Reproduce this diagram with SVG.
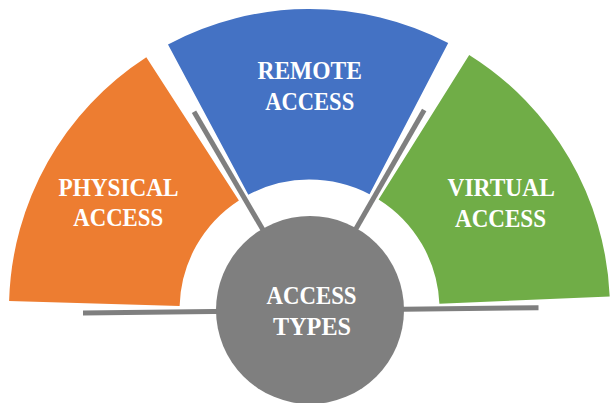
<svg xmlns="http://www.w3.org/2000/svg" width="611" height="403" viewBox="0 0 611 403">
<style>
.lbl{font-family:"Liberation Serif","Times New Roman",serif;font-weight:bold;font-size:26px;fill:#ffffff;text-anchor:middle}
.conn{stroke:#7f7f7f;stroke-width:5;fill:none;stroke-linecap:butt}
</style>
<rect width="611" height="403" fill="#ffffff"/>
<g id="physical">
<path d="M 146.3 57.2 A 300.5 300.5 0 0 0 9.1 301.1 L 179.6 305.9 A 130 130 0 0 1 238.9 200.4 Z" fill="#ed7d31"/>
<text class="lbl" x="118.5" y="196" textLength="120" lengthAdjust="spacingAndGlyphs">PHYSICAL</text>
<text class="lbl" x="118.2" y="226" textLength="90" lengthAdjust="spacingAndGlyphs">ACCESS</text>
</g>
<g id="remote">
<path d="M 168.0 44.4 A 300.5 300.5 0 0 1 448.2 43.0 L 369.5 194.2 A 130 130 0 0 0 248.3 194.8 Z" fill="#4472c4"/>
<text class="lbl" x="309.7" y="78.5" textLength="104.5" lengthAdjust="spacingAndGlyphs">REMOTE</text>
<text class="lbl" x="309.7" y="110" textLength="89" lengthAdjust="spacingAndGlyphs">ACCESS</text>
</g>
<g id="virtual">
<path d="M 469.2 54.9 A 300.5 300.5 0 0 1 609.7 296.4 L 439.4 303.8 A 130 130 0 0 0 378.6 199.4 Z" fill="#70ad47"/>
<text class="lbl" x="501.2" y="196" textLength="107.5" lengthAdjust="spacingAndGlyphs">VIRTUAL</text>
<text class="lbl" x="500.5" y="226.7" textLength="91" lengthAdjust="spacingAndGlyphs">ACCESS</text>
</g>
<g id="connectors">
<line class="conn" x1="194" y1="111.8" x2="264.1" y2="231.8"/>
<line class="conn" x1="424.2" y1="110.1" x2="354.4" y2="231.5"/>
<line class="conn" x1="83" y1="313" x2="538.5" y2="307.7"/>
</g>
<g id="access-types">
<circle cx="310" cy="310" r="94" fill="#7f7f7f"/>
<text class="lbl" x="311.5" y="303.5" textLength="90" lengthAdjust="spacingAndGlyphs">ACCESS</text>
<text class="lbl" x="312" y="335" textLength="78" lengthAdjust="spacingAndGlyphs">TYPES</text>
</g>
</svg>
